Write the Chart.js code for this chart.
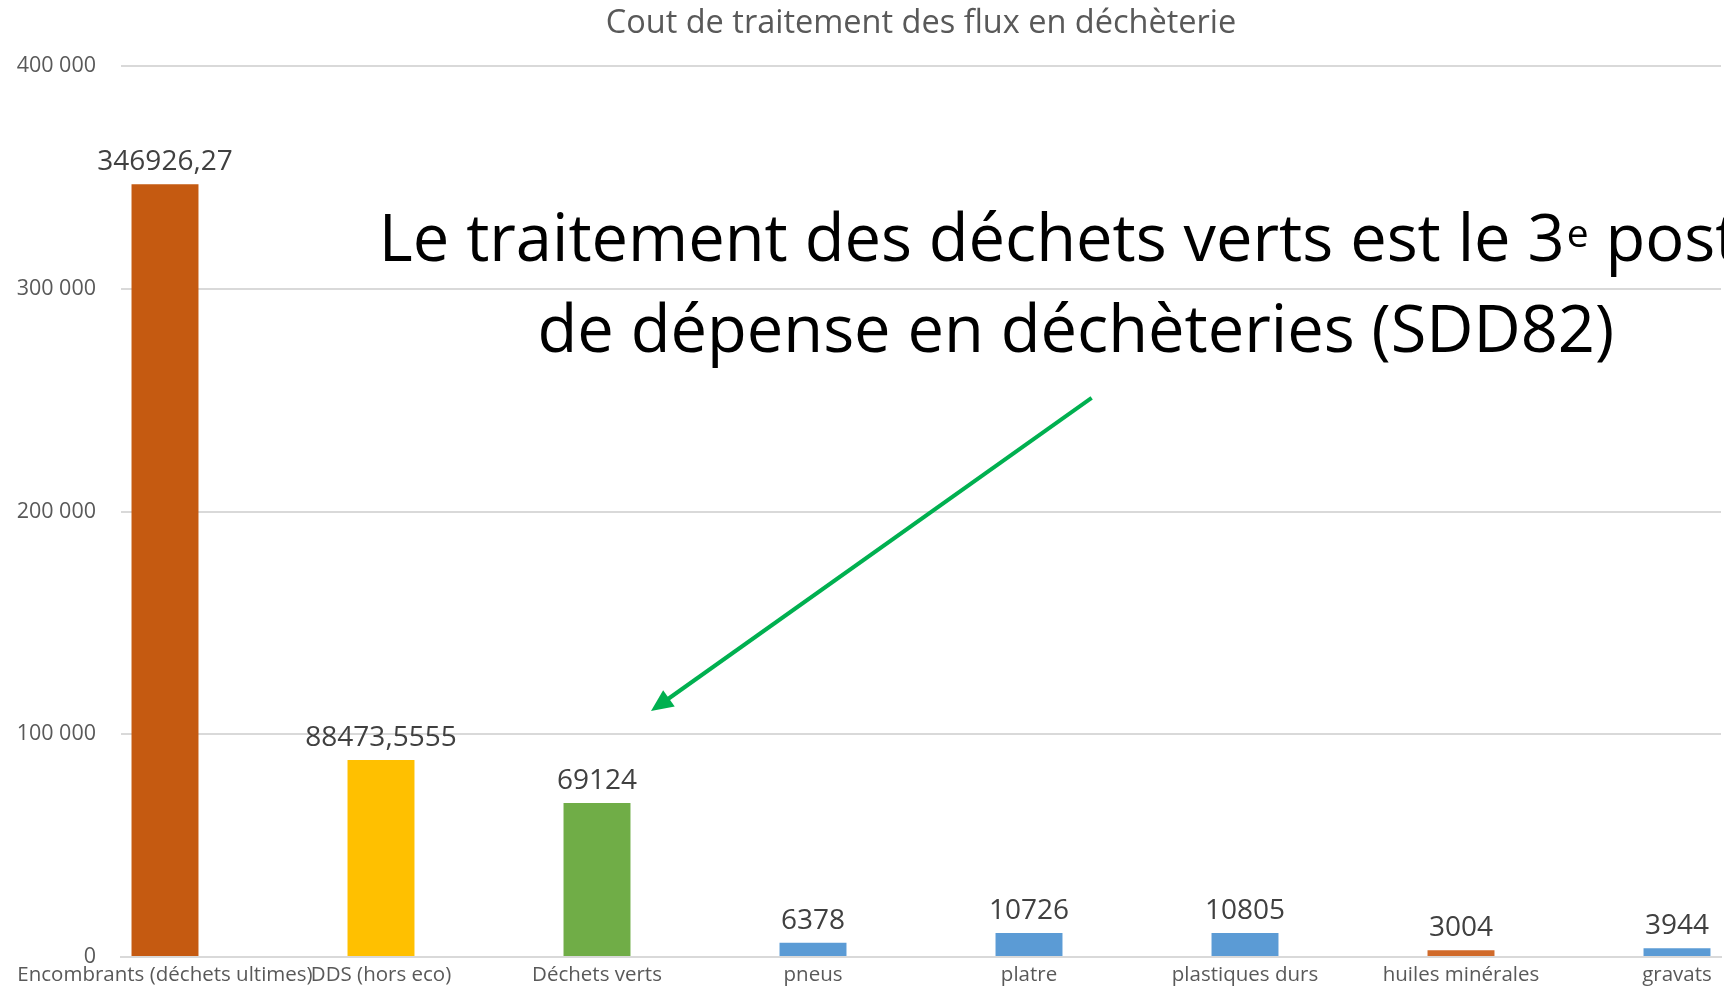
<!DOCTYPE html>
<html lang="fr">
<head>
<meta charset="utf-8">
<title>Cout de traitement des flux en déchèterie</title>
<script src="https://cdn.jsdelivr.net/npm/chart.js@4.4.1/dist/chart.umd.min.js"></script>
<style>
  html, body { margin: 0; padding: 0; background: #fff; overflow: hidden; }
  #wrap { width: 1724px; height: 988px; }
</style>
</head>
<body>
<div id="wrap"><canvas id="chart" width="1724" height="988"></canvas></div>
<script>
const categories = ["Encombrants (déchets ultimes)", "DDS (hors eco)", "Déchets verts", "pneus", "platre", "plastiques durs", "huiles minérales", "gravats"];
const costs = [346926.27, 88473.5555, 69124, 6378, 10726, 10805, 3004, 3944];
const valueLabels = ["346926,27", "88473,5555", "69124", "6378", "10726", "10805", "3004", "3944"];
const barColors = ["#C55A11", "#FFC000", "#70AD47", "#5B9BD5", "#5B9BD5", "#5B9BD5", "#D06A2A", "#5B9BD5"];
const yMax = 400000;
const yStep = 100000;

// callout text + arrow, anchored in data units
const calloutLine1 = ["Le traitement des déchets verts est le 3", "e", " poste"];
const calloutLine2 = "de dépense en déchèteries (SDD82)";
const calloutAt = { x: 4.217, y1: 312500, y2: 271600 };
const arrowFrom = { x: 4.29, y: 251000 };
const arrowTo = { x: 2.25, y: 110400 };

const FONT = "'Open Sans', sans-serif";

const fmtThousands = v => v === 0 ? "0" : String(v).replace(/\B(?=(\d{3})+(?!\d))/g, " ");

const valueLabelPlugin = {
  id: 'valueLabels',
  afterDatasetsDraw(chart) {
    const ctx = chart.ctx;
    const meta = chart.getDatasetMeta(0);
    ctx.save();
    ctx.font = "28px " + FONT;
    ctx.fillStyle = '#404040';
    ctx.textAlign = 'center';
    ctx.textBaseline = 'alphabetic';
    meta.data.forEach((bar, i) => {
      ctx.fillText(valueLabels[i], bar.x, bar.y - 14);
    });
    ctx.restore();
  }
};

const calloutPlugin = {
  id: 'callout',
  afterDraw(chart) {
    const { ctx, scales: { x, y } } = chart;
    const big = "65px " + FONT;
    const small = "39px " + FONT;
    const cx = x.getPixelForValue(calloutAt.x);

    ctx.save();
    ctx.fillStyle = '#000';
    ctx.textBaseline = 'alphabetic';
    ctx.textAlign = 'left';

    // line 1, with superscript "e"
    ctx.font = big;
    const w1 = ctx.measureText(calloutLine1[0]).width;
    const w3 = ctx.measureText(calloutLine1[2]).width;
    ctx.font = small;
    const w2 = ctx.measureText(calloutLine1[1]).width;
    let px = cx - (w1 + w2 + w3) / 2;
    const base1 = y.getPixelForValue(calloutAt.y1);
    ctx.font = big;
    ctx.fillText(calloutLine1[0], px, base1);
    px += w1 + 2;
    ctx.font = small;
    ctx.fillText(calloutLine1[1], px, base1 - 14);
    px += w2;
    ctx.font = big;
    ctx.fillText(calloutLine1[2], px, base1);

    // line 2
    ctx.textAlign = 'center';
    ctx.fillText(calloutLine2, cx, y.getPixelForValue(calloutAt.y2));

    // arrow
    const x0 = x.getPixelForValue(arrowFrom.x), y0 = y.getPixelForValue(arrowFrom.y);
    const x1 = x.getPixelForValue(arrowTo.x), y1 = y.getPixelForValue(arrowTo.y);
    const ang = Math.atan2(y1 - y0, x1 - x0);
    const headLen = 22, headHalf = 10;
    const bx = x1 - headLen * Math.cos(ang), by = y1 - headLen * Math.sin(ang);
    ctx.strokeStyle = '#00B050';
    ctx.fillStyle = '#00B050';
    ctx.lineWidth = 4;
    ctx.beginPath();
    ctx.moveTo(x0, y0);
    ctx.lineTo(bx + 2 * Math.cos(ang), by + 2 * Math.sin(ang));
    ctx.stroke();
    ctx.beginPath();
    ctx.moveTo(x1, y1);
    ctx.lineTo(bx + headHalf * Math.sin(ang), by - headHalf * Math.cos(ang));
    ctx.lineTo(bx - headHalf * Math.sin(ang), by + headHalf * Math.cos(ang));
    ctx.closePath();
    ctx.fill();
    ctx.restore();
  }
};

const ctx = document.getElementById('chart').getContext('2d');
new Chart(ctx, {
  type: 'bar',
  data: {
    datasets: [{
      label: 'Cout',
      data: costs.map((v, i) => ({ x: i, y: v })),
      backgroundColor: barColors,
      categoryPercentage: 1,
      barPercentage: 0.31
    }]
  },
  options: {
    responsive: false,
    devicePixelRatio: 1,
    animation: false,
    layout: { padding: { left: 16, right: 3, top: 0, bottom: 1 } },
    scales: {
      x: {
        type: 'linear',
        offset: false,
        min: -0.2037,
        max: 7.2037,
        grid: { display: false, drawTicks: false, offset: false },
        border: { display: true, color: '#D9D9D9', width: 2 },
        // long first label must not squeeze the plot
        afterFit: s => { s.paddingLeft = 0; s.paddingRight = 0; s.height = 30; },
        ticks: {
          stepSize: 1,
          includeBounds: false,
          autoSkip: false,
          maxRotation: 0,
          minRotation: 0,
          padding: 6,
          color: '#595959',
          font: { family: FONT, size: 20.5 },
          callback: v => categories[v] !== undefined ? categories[v] : ''
        }
      },
      y: {
        min: 0,
        max: yMax,
        afterFit: s => { s.width = 105; s.paddingTop = 0; s.paddingBottom = 0; },
        grid: { color: '#D9D9D9', lineWidth: 2, drawTicks: false },
        border: { display: false },
        ticks: {
          stepSize: yStep,
          padding: 25,
          color: '#595959',
          font: { family: FONT, size: 21.5 },
          callback: v => fmtThousands(v)
        }
      }
    },
    plugins: {
      legend: { display: false },
      tooltip: { enabled: false },
      title: {
        display: true,
        fullSize: false,
        text: 'Cout de traitement des flux en déchèterie',
        color: '#595959',
        font: { family: FONT, size: 32.5, weight: 'normal' },
        padding: { top: 4, bottom: 23 }
      }
    }
  },
  plugins: [valueLabelPlugin, calloutPlugin]
});
</script>
</body>
</html>
